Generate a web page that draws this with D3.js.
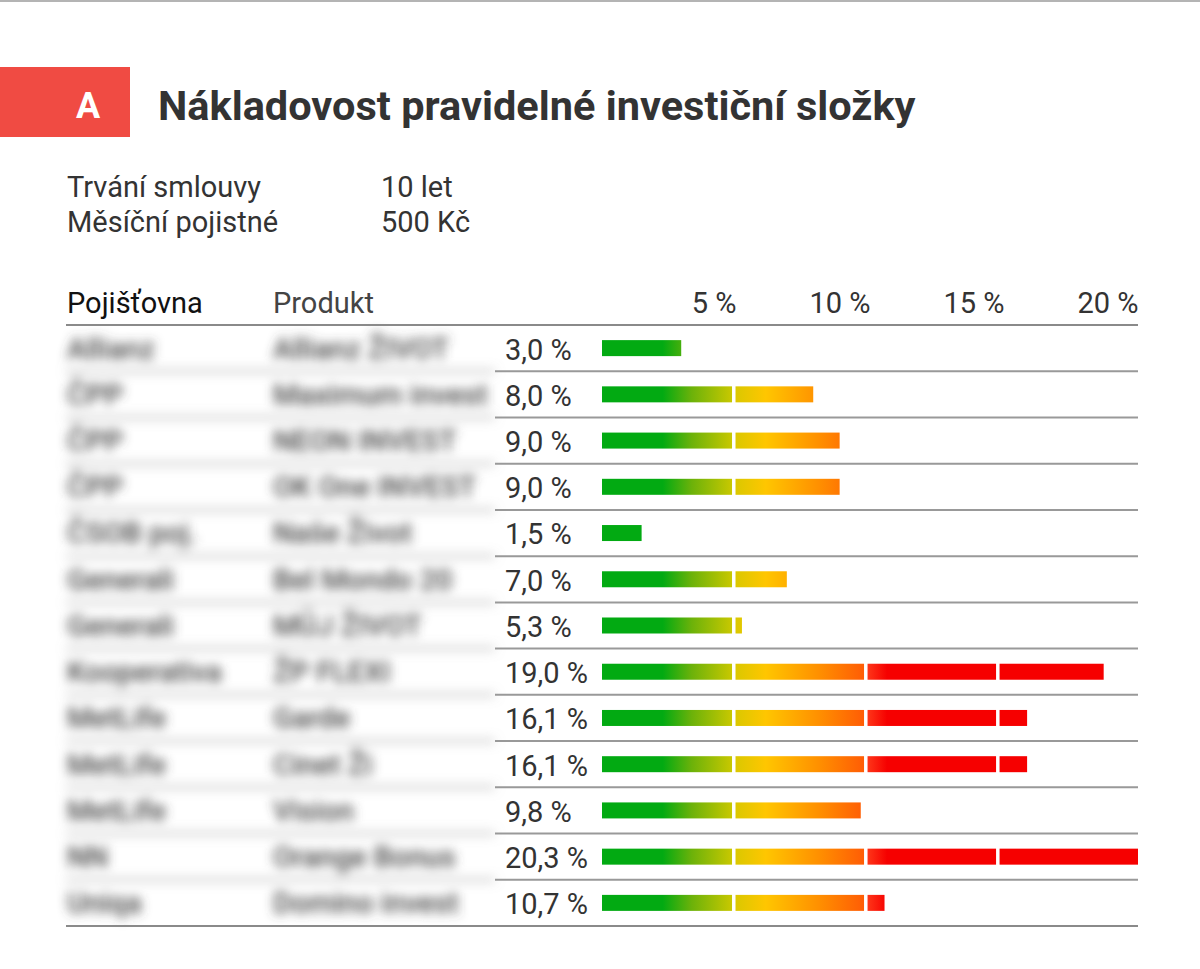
<!DOCTYPE html>
<html>
<head>
<meta charset="utf-8">
<script src="https://cdn.jsdelivr.net/npm/d3@7"></script>
<style>
  body { margin: 0; background: #fff; }
  svg { display: block; font-family: Roboto, sans-serif; }
</style>
</head>
<body>
<script>
var width = 1200;
var height = 969;

// data
var insurers = ["Allianz", "ČPP", "ČPP", "ČPP", "ČSOB poj.", "Generali", "Generali",
                "Kooperativa", "MetLife", "MetLife", "MetLife", "NN", "Uniqa"];
var products = ["Allianz ŽIVOT", "Maximum invest", "NEON INVEST", "OK One INVEST", "Naše Život",
                "Bel Mondo 20", "MŮJ ŽIVOT", "ŽP FLEXI", "Garde", "Cinet Ži", "Vision",
                "Orange Bonus", "Domino invest"];
var values = [3.0, 8.0, 9.0, 9.0, 1.5, 7.0, 5.3, 19.0, 16.1, 16.1, 9.8, 20.3, 10.7];
var ticks = [5, 10, 15, 20];
var breaks = [5, 10, 15];   // where the bars are cut
var infoLabels = ["Trvání smlouvy", "Měsíční pojistné"];
var infoValues = ["10 let", "500 Kč"];

var svg = d3.select("body").append("svg")
            .attr("width", width)
            .attr("height", height);

svg.append("rect").attr("width", width).attr("height", height).attr("fill", "#fff");
svg.append("line").attr("x1", 0).attr("x2", width).attr("y1", 1).attr("y2", 1)
   .attr("stroke", "#b4b4b4").attr("stroke-width", 2);

// title block
svg.append("rect").attr("x", 0).attr("y", 67).attr("width", 130).attr("height", 70)
   .attr("fill", "#f04b43");
svg.append("text").attr("x", 88).attr("y", 118).attr("text-anchor", "middle")
   .attr("fill", "#fff").attr("font-size", 36).attr("font-weight", 700).text("A");
svg.append("text").attr("x", 158).attr("y", 120)
   .attr("fill", "#333").attr("font-size", 41.5).attr("font-weight", 700)
   .text("Nákladovost pravidelné investiční složky");

// info lines
infoLabels.forEach(function(t, i){
    svg.append("text").attr("x", 67).attr("y", 197 + i*35)
       .attr("font-size", 29).attr("fill", "#333").text(t);
    svg.append("text").attr("x", 381).attr("y", 197 + i*35)
       .attr("font-size", 29).attr("fill", "#333").text(infoValues[i]);
});

// scales
var x = d3.scaleLinear().domain([0, 20.3]).range([602, 1138]);
var xTick = x.copy().domain([0, 20]);
var y = d3.scaleBand().domain(d3.range(values.length)).range([325, 926]);

// header
svg.append("text").attr("x", 67).attr("y", 313).attr("font-size", 29)
   .attr("fill", "#111").text("Pojišťovna");
svg.append("text").attr("x", 273).attr("y", 313).attr("font-size", 29)
   .attr("fill", "#444").text("Produkt");

var axis = d3.axisTop(xTick).tickValues(ticks)
             .tickFormat(function(d){ return d + " %"; })
             .tickSize(0).tickPadding(0);
var gAxis = svg.append("g").attr("transform", "translate(0,313)").call(axis);
gAxis.select(".domain").remove();
gAxis.selectAll("text").attr("font-size", 29).attr("font-family", "Roboto, sans-serif")
     .attr("fill", "#333").attr("text-anchor", "end").attr("dy", 0);

// gradient for bars
var defs = svg.append("defs");
var grad = defs.append("linearGradient").attr("id", "cost")
               .attr("gradientUnits", "userSpaceOnUse")
               .attr("x1", x(0)).attr("x2", x(20)).attr("y1", 0).attr("y2", 0);
var stops = [
    [0, "#02aa12"], [2.3, "#02aa12"], [3.4, "#6cb20a"], [5.0, "#cdc900"],
    [5.0, "#d9c800"], [6.2, "#ffc600"], [8.2, "#ff9000"], [10.0, "#ff5a05"],
    [10.0, "#ff3a1a"], [10.8, "#f60000"], [20, "#f60000"]
];
stops.forEach(function(s){
    grad.append("stop").attr("offset", s[0] / 20).attr("stop-color", s[1]);
});
defs.append("filter").attr("id", "blur").attr("x", "-10%").attr("y", "-50%")
    .attr("width", "120%").attr("height", "200%")
    .append("feGaussianBlur").attr("stdDeviation", 5.5);

// blurred name columns
var blurred = svg.append("g").attr("filter", "url(#blur)");
var rows = d3.range(values.length);
blurred.selectAll("line").data(rows.slice(0, -1)).enter().append("line")
       .attr("x1", 66).attr("x2", 495)
       .attr("y1", function(i){ return y(i) + y.bandwidth(); })
       .attr("y2", function(i){ return y(i) + y.bandwidth(); })
       .attr("stroke", "#999").attr("stroke-width", 2);
blurred.selectAll("text.ins").data(rows).enter().append("text").attr("class", "ins")
       .attr("x", 67).attr("y", function(i){ return y(i) + y.bandwidth()/2; })
       .attr("dy", "0.36em").attr("font-size", 29).attr("font-weight", 500).attr("fill", "#444")
       .text(function(i){ return insurers[i]; });
blurred.selectAll("text.prod").data(rows).enter().append("text").attr("class", "prod")
       .attr("x", 273).attr("y", function(i){ return y(i) + y.bandwidth()/2; })
       .attr("dy", "0.36em").attr("font-size", 29).attr("font-weight", 500).attr("fill", "#444")
       .text(function(i){ return products[i]; });

// row separators
svg.append("line").attr("x1", 66).attr("x2", 1138).attr("y1", 325).attr("y2", 325)
   .attr("stroke", "#8a8a8a").attr("stroke-width", 2);
svg.selectAll("line.sep").data(rows.slice(0, -1)).enter().append("line").attr("class", "sep")
   .attr("x1", 495).attr("x2", 1138)
   .attr("y1", function(i){ return y(i) + y.bandwidth(); })
   .attr("y2", function(i){ return y(i) + y.bandwidth(); })
   .attr("stroke", "#999").attr("stroke-width", 2);
svg.append("line").attr("x1", 66).attr("x2", 1138).attr("y1", 926).attr("y2", 926)
   .attr("stroke", "#8a8a8a").attr("stroke-width", 2);

// value labels
svg.selectAll("text.val").data(rows).enter().append("text").attr("class", "val")
   .attr("x", 505).attr("y", function(i){ return y(i) + y.bandwidth()/2 + 1; })
   .attr("dy", "0.36em").attr("font-size", 29).attr("fill", "#333")
   .text(function(i){ return d3.format(".1f")(values[i]).replace(".", ",") + " %"; });

// bars cut at every 5 %
var pieces = [];
rows.forEach(function(i){
    var edges = [0].concat(breaks.filter(function(b){ return b < values[i]; }), [values[i]]);
    for (var k = 0; k < edges.length - 1; k++) {
        var last = k === edges.length - 2;
        pieces.push({
            row: i,
            x0: x(edges[k]) + (k > 0 ? 1.5 : 0),
            x1: x(edges[k + 1]) - (last ? 0 : 2)
        });
    }
});
var barH = 16;
svg.selectAll("rect.bar").data(pieces).enter().append("rect").attr("class", "bar")
   .attr("x", function(d){ return d.x0; })
   .attr("width", function(d){ return Math.max(0, d.x1 - d.x0); })
   .attr("y", function(d){ return y(d.row) + y.bandwidth()/2 - barH/2; })
   .attr("height", barH)
   .attr("fill", "url(#cost)");
</script>
</body>
</html>
